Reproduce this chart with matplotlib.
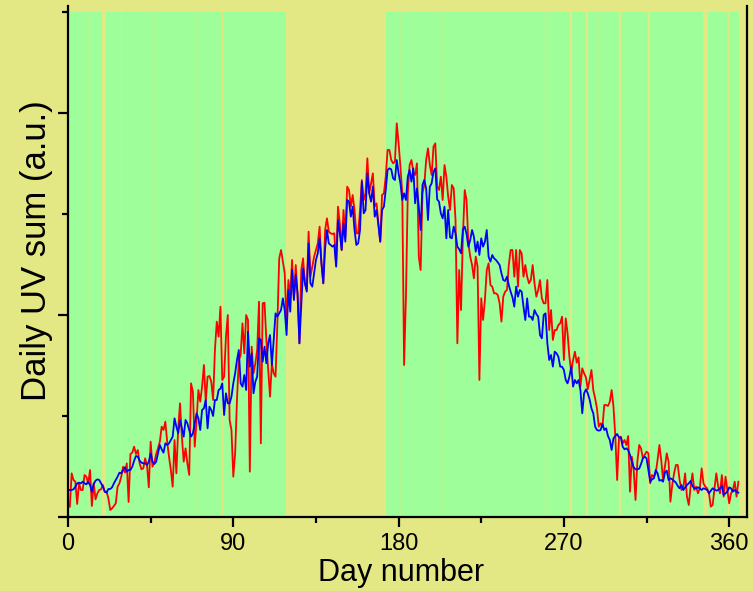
import numpy as np
import matplotlib
matplotlib.use("Agg")
import matplotlib.pyplot as plt
from matplotlib.ticker import FixedLocator, NullFormatter

# ---- data (daily UV sums, arbitrary units) ----
uv_red = [
    31, 131, 111, 106, 39, 101, 81, 81, 126, 121,
    101, 141, 33, 101, 53, 71, 81, 83, 96, 76,
    76, 56, 21, 26, 33, 41, 91, 101, 121, 151,
    133, 161, 45, 189, 193, 211, 189, 201, 161, 143,
    146, 176, 156, 89, 226, 151, 163, 189, 206, 226,
    271, 261, 286, 226, 181, 141, 91, 231, 131, 266,
    341, 241, 166, 206, 161, 126, 401, 376, 211, 291,
    381, 346, 391, 456, 346, 421, 423, 406, 351, 501,
    586, 541, 631, 411, 421, 541, 606, 291, 261, 121,
    191, 351, 471, 486, 581, 491, 606, 591, 136, 511,
    431, 461, 501, 646, 221, 641, 643, 531, 441, 361,
    461, 431, 421, 581, 776, 801, 766, 731, 581, 711,
    661, 771, 656, 756, 661, 521, 741, 776, 701, 681,
    856, 721, 751, 781, 801, 821, 871, 761, 701, 861,
    896, 856, 851, 849, 851, 756, 931, 881, 801, 921,
    841, 991, 981, 931, 966, 921, 851, 851, 921, 1011,
    951, 971, 1076, 971, 1001, 1031, 931, 941, 881, 826,
    966, 971, 1021, 1101, 1101, 1071, 1061, 1066, 1181, 1121,
    1051, 971, 456, 661, 971, 1056, 1071, 1036, 1026, 1061,
    781, 741, 971, 996, 1071, 1106, 1056, 1026, 1111, 1121,
    991, 981, 1021, 951, 1056, 1021, 961, 921, 996, 986,
    891, 521, 741, 621, 841, 981, 951, 821, 781, 756,
    716, 781, 751, 411, 656, 591, 651, 741, 761, 696,
    691, 671, 671, 666, 641, 586, 661, 676, 681, 756,
    801, 801, 721, 801, 691, 801, 791, 721, 756, 721,
    701, 711, 756, 701, 661, 681, 711, 656, 641, 641,
    711, 561, 621, 531, 561, 561, 576, 581, 601, 471,
    596, 551, 481, 436, 471, 496, 463, 479, 391, 446,
    431, 419, 383, 411, 441, 381, 356, 326, 271, 281,
    271, 336, 336, 333, 346, 381, 331, 241, 111, 236,
    241, 221, 231, 216, 243, 76, 181, 141, 51, 166,
    216, 206, 176, 186, 196, 191, 101, 126, 121, 131,
    171, 216, 171, 111, 151, 191, 166, 46, 96, 131,
    156, 156, 111, 81, 86, 131, 61, 36, 91, 131,
    81, 91, 71, 86, 146, 101, 91, 86, 71, 31,
    36, 86, 131, 91, 71, 126, 61, 121, 81, 41,
    71, 81, 106, 61, 106,
]

uv_blue = [
    81, 81, 83, 91, 101, 103, 101, 106, 101, 98,
    106, 96, 76, 99, 109, 113, 111, 101, 91, 76,
    73, 84, 84, 89, 101, 111, 121, 133, 131, 141,
    149, 136, 141, 141, 151, 169, 183, 181, 169, 163,
    161, 161, 156, 166, 191, 166, 159, 166, 191, 216,
    203, 193, 221, 216, 221, 231, 241, 296, 271, 251,
    291, 266, 241, 291, 281, 261, 241, 251, 281, 311,
    296, 261, 321, 326, 351, 266, 331, 321, 303, 351,
    351, 381, 385, 401, 306, 371, 341, 341, 361, 401,
    431, 471, 501, 401, 391, 426, 381, 556, 451, 491,
    371, 406, 421, 536, 531, 466, 511, 461, 521, 546,
    456, 531, 611, 601, 611, 621, 656, 621, 546, 681,
    616, 741, 651, 726, 671, 521, 631, 746, 701, 676,
    821, 701, 691, 731, 771, 791, 836, 761, 701, 806,
    861, 821, 816, 811, 816, 751, 891, 851, 801, 881,
    826, 951, 946, 901, 931, 861, 816, 821, 861, 1006,
    911, 921, 1031, 971, 946, 991, 901, 921, 876, 826,
    921, 931, 981, 1041, 1046, 1043, 1016, 1011, 1071, 1031,
    1001, 951, 971, 951, 1021, 1041, 1006, 1046, 941, 986,
    931, 861, 996, 1011, 986, 891, 991, 1001, 1036, 1046,
    953, 946, 911, 896, 931, 836, 921, 839, 836, 871,
    851, 811, 803, 791, 863, 871, 849, 811, 831, 861,
    841, 796, 826, 786, 836, 811, 826, 861, 781, 766,
    786, 776, 771, 764, 756, 731, 711, 708, 721, 696,
    676, 659, 631, 691, 661, 681, 676, 631, 591, 656,
    601, 601, 591, 621, 609, 601, 546, 536, 606, 611,
    521, 471, 486, 451, 496, 491, 481, 451, 451, 441,
    411, 401, 421, 451, 391, 411, 401, 411, 381, 311,
    371, 383, 371, 353, 326, 311, 271, 261, 259, 261,
    279, 261, 266, 243, 231, 201, 236, 243, 249, 239,
    239, 211, 203, 206, 201, 186, 166, 149, 143, 143,
    145, 159, 176, 181, 176, 141, 106, 113, 116, 141,
    131, 109, 111, 106, 133, 139, 111, 116, 113, 108,
    103, 93, 86, 96, 81, 88, 96, 101, 108, 93,
    86, 86, 89, 86, 81, 86, 84, 81, 71, 79,
    86, 83, 79, 81, 86, 93, 66, 71, 76, 89,
    86, 76, 81, 76, 73,
]

# shaded (green) periods, in day numbers
green_start = [0.0, 20.5, 29.6, 84.6, 173.0, 274.4, 283.1, 301.0, 316.9, 348.4, 360.0]
green_end = [18.7, 29.1, 83.9, 118.7, 273.3, 282.1, 300.1, 315.6, 345.9, 359.2, 365.5]
# faint seams inside the green periods
seam_days = [10.9, 13.6, 46.7, 69.6, 99.5, 181.0, 197.9, 201.0, 203.7, 228.2,
             255.1, 260.0, 262.0, 288.5]

x_ticks = [0, 90, 180, 270, 360]
x_minor = [45, 135, 225, 315]
y_major = [0, 606, 1212]
y_minor = [303, 909, 1515]
shade_top = 1515

# ---- style ----
YELLOW = "#e3e884"
GREEN = "#9eff9a"
SEAM = "#b8f692"

plt.rcParams["font.family"] = ["Liberation Sans", "DejaVu Sans"]

fig = plt.figure(figsize=(7.53, 5.91), dpi=100, facecolor=YELLOW)
ax = fig.add_axes([68 / 753, 74 / 591, (747 - 68) / 753, (517 - 6) / 591])
ax.set_facecolor(YELLOW)

for s, e in zip(green_start, green_end):
    ax.fill_between([s, e], 0, shade_top, color=GREEN, lw=0, zorder=0)
for d in seam_days:
    ax.plot([d, d], [0, shade_top], color=SEAM, lw=0.6, zorder=0.5)

days_r = np.arange(1, len(uv_red) + 1)
days_b = np.arange(1, len(uv_blue) + 1)
ax.plot(days_r, uv_red, color="#ff0000", lw=1.3, zorder=2)
ax.plot(days_b, uv_blue, color="#0000ff", lw=1.3, zorder=3)

ax.set_xlim(0, 369.7)
ax.set_ylim(0, 1533)

ax.spines["top"].set_visible(False)
for side in ["left", "bottom", "right"]:
    ax.spines[side].set_linewidth(1.6)
    ax.spines[side].set_color("black")

ax.xaxis.set_major_locator(FixedLocator(x_ticks))
ax.xaxis.set_minor_locator(FixedLocator(x_minor))
ax.set_xticklabels([str(t) for t in x_ticks])
ax.yaxis.set_major_locator(FixedLocator(y_major))
ax.yaxis.set_minor_locator(FixedLocator(y_minor))
ax.yaxis.set_major_formatter(NullFormatter())

ax.tick_params(axis="both", which="major", direction="out", length=7.5, width=1.6,
               labelsize=17, pad=4, color="black")
ax.tick_params(axis="both", which="minor", direction="out", length=4.5, width=1.6,
               color="black")
ax.tick_params(axis="y", right=False, which="both")

ax.set_xlabel("Day number", fontsize=22)
ax.xaxis.set_label_coords(0.491, -0.080)
ax.set_ylabel("Daily UV sum (a.u.)", fontsize=25)
ax.yaxis.set_label_coords(-0.022, 0.522)

fig.savefig("out.png", dpi=100, facecolor=YELLOW)
